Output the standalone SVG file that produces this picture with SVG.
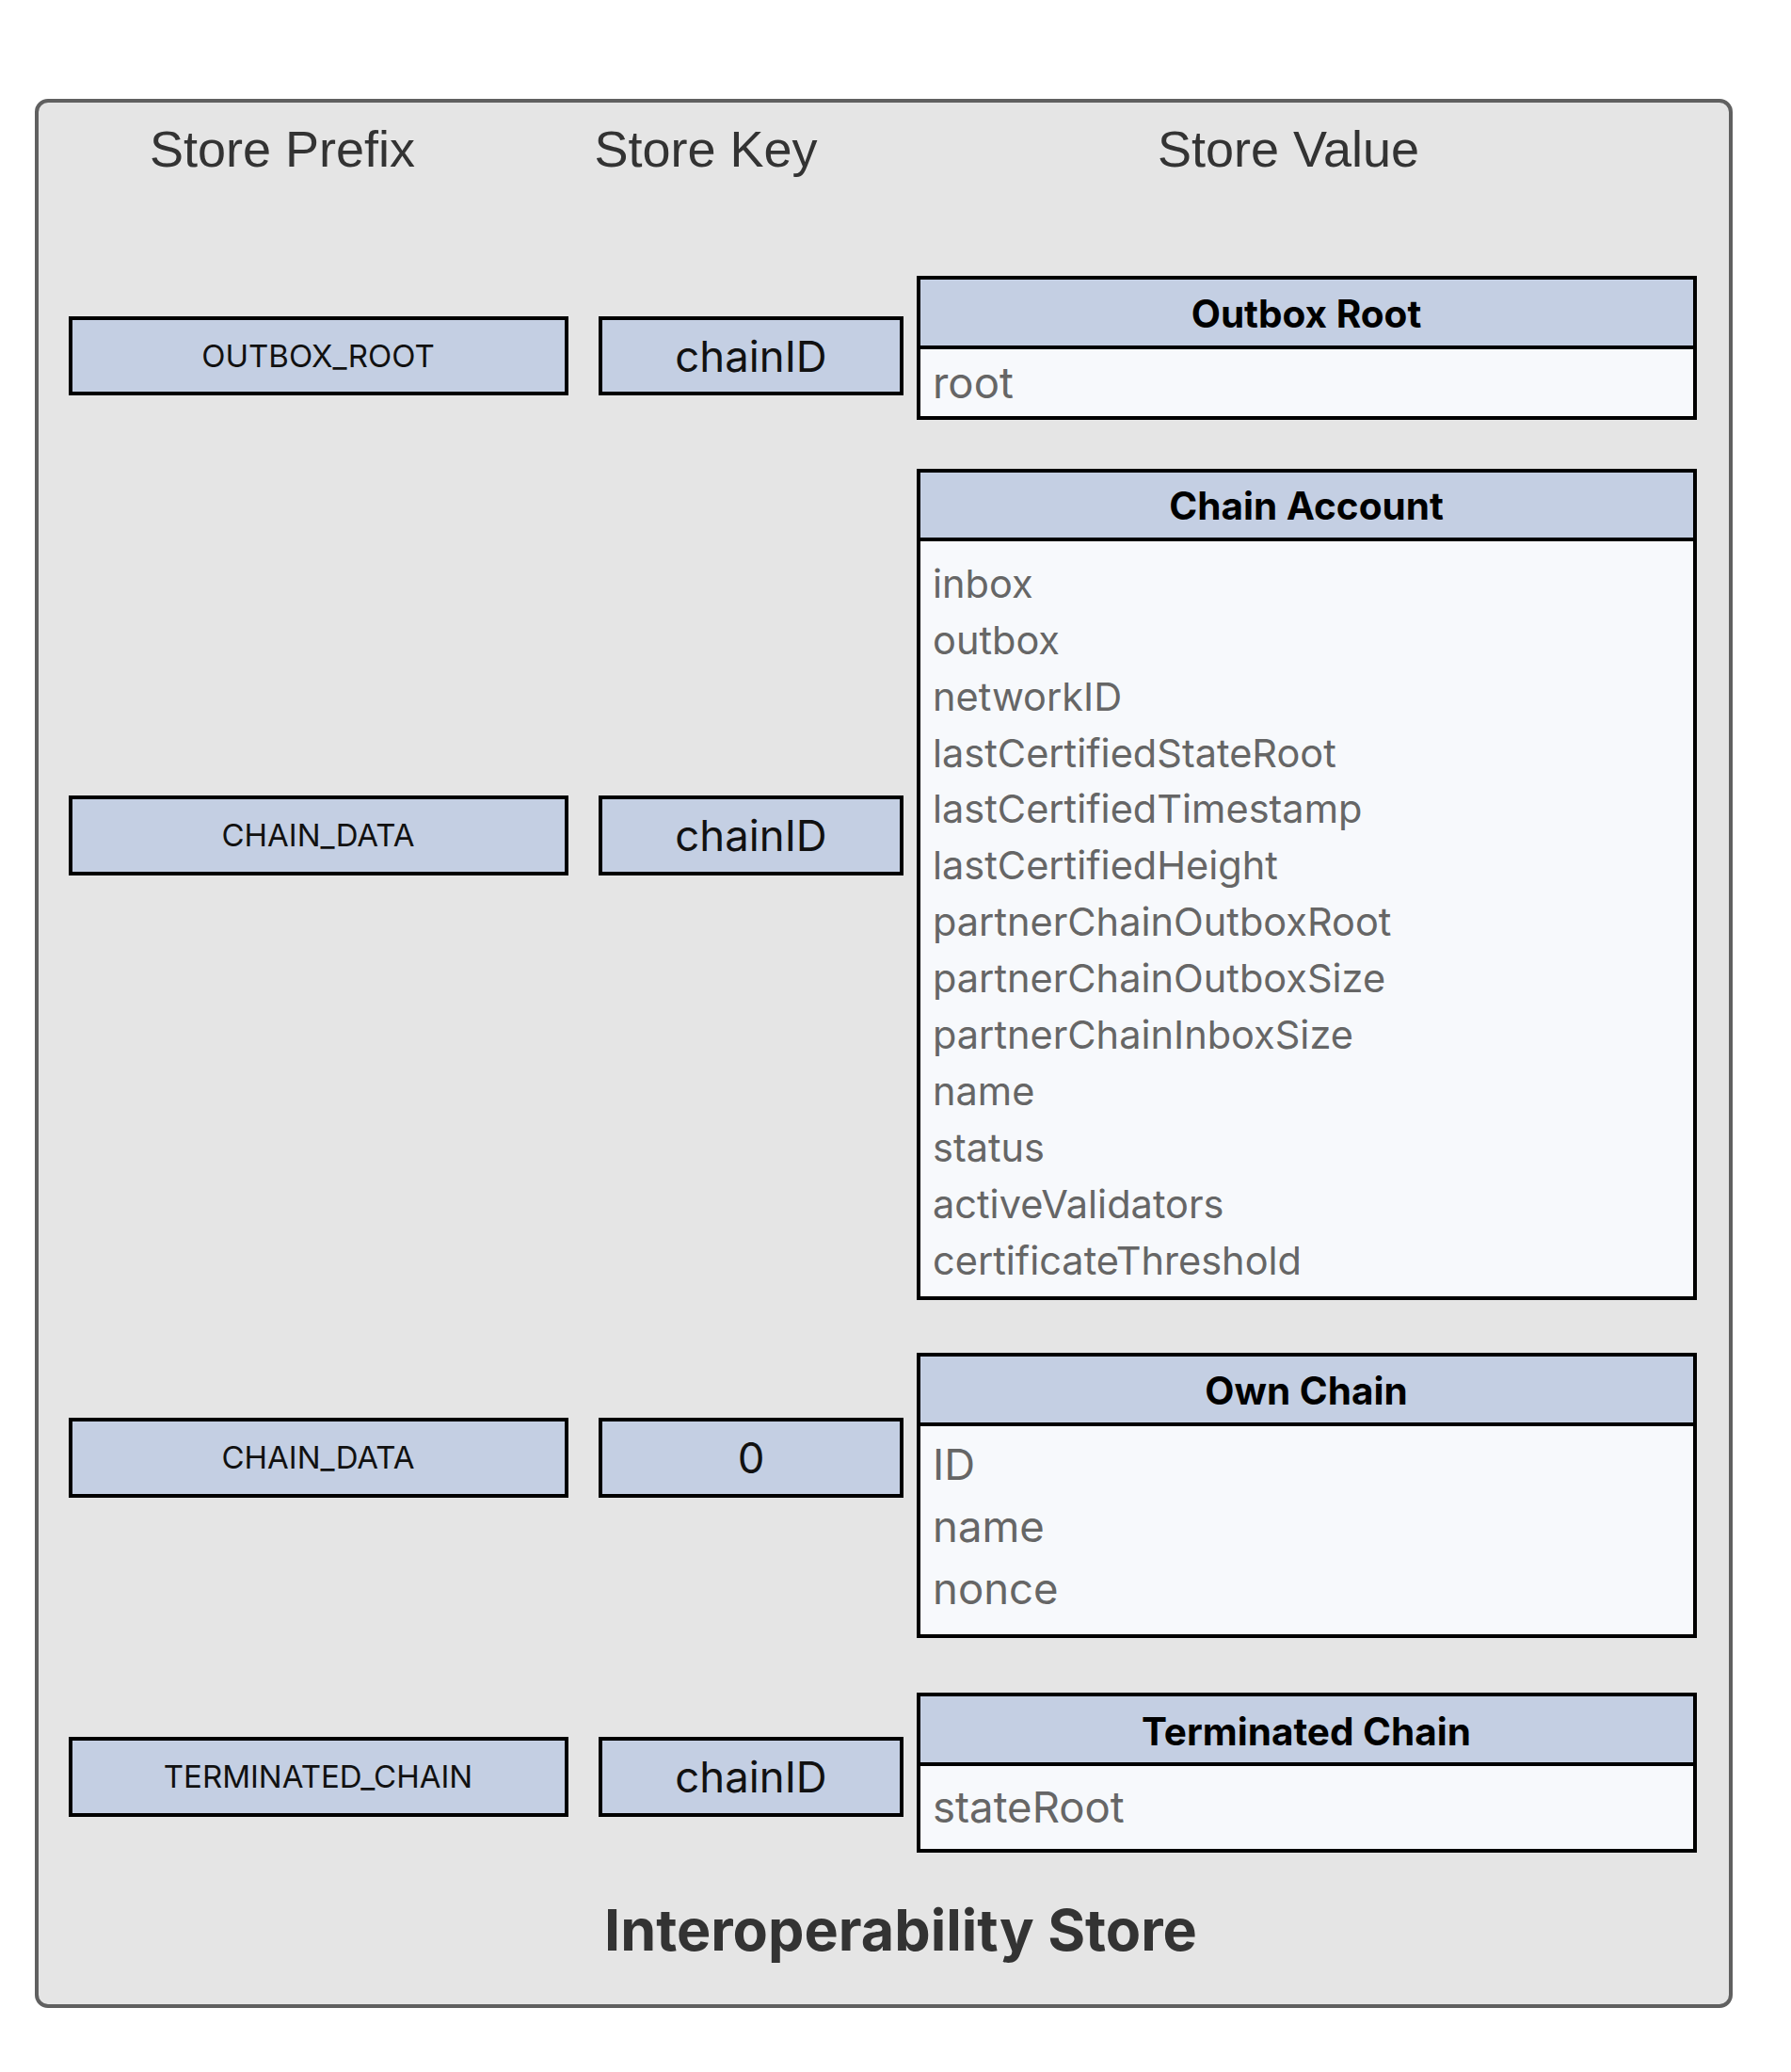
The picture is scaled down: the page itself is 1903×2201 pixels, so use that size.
<svg xmlns="http://www.w3.org/2000/svg" width="1903" height="2201" viewBox="0 0 1903 2201">
<style>
.outer{fill:#e5e5e5;stroke:#606060;stroke-width:4}
.cell{fill:#c4cfe3;stroke:#000;stroke-width:4}
.body{fill:#f7f9fc;stroke:#000;stroke-width:4}
.col{font-family:"Liberation Sans",Arial,sans-serif;font-size:54px;fill:#333;text-anchor:middle}
.pre{font-family:Inter,"Noto Sans",sans-serif;font-size:33px;fill:#111;text-anchor:middle}
.key{font-family:Inter,"Noto Sans",sans-serif;font-size:45.5px;fill:#111;text-anchor:middle}
.hdr{font-family:Inter,"Noto Sans",sans-serif;font-size:40.5px;font-weight:700;fill:#000;text-anchor:middle}
.fld{font-family:Inter,"Noto Sans",sans-serif;font-size:41.5px;fill:#666}
.fld2{font-family:Inter,"Noto Sans",sans-serif;font-size:45.5px;fill:#666}
.title{font-family:Inter,"Noto Sans",sans-serif;font-size:61px;font-weight:700;fill:#333;text-anchor:middle}
</style>
<g id="store">
<rect class="outer" x="39" y="107" width="1800" height="2024" rx="12"/>
<text class="col" x="300" y="177">Store Prefix</text>
<text class="col" x="750" y="177">Store Key</text>
<text class="col" x="1369" y="177">Store Value</text>
<text class="title" x="957" y="2072">Interoperability Store</text>
</g>
<g id="connectors"></g>
<g id="prefix-outbox-root">
<rect class="cell" x="75" y="338" width="527" height="80"/>
<text class="pre" x="338" y="390">OUTBOX_ROOT</text>
</g>
<g id="key-outbox-root">
<rect class="cell" x="638" y="338" width="320" height="80"/>
<text class="key" x="798" y="395">chainID</text>
</g>
<g id="prefix-chain-data">
<rect class="cell" x="75" y="847" width="527" height="81"/>
<text class="pre" x="338" y="899">CHAIN_DATA</text>
</g>
<g id="key-chain-data">
<rect class="cell" x="638" y="847" width="320" height="81"/>
<text class="key" x="798" y="904">chainID</text>
</g>
<g id="prefix-own-chain">
<rect class="cell" x="75" y="1508" width="527" height="81"/>
<text class="pre" x="338" y="1560">CHAIN_DATA</text>
</g>
<g id="key-own-chain">
<rect class="cell" x="638" y="1508" width="320" height="81"/>
<text class="key" x="798" y="1565">0</text>
</g>
<g id="prefix-terminated">
<rect class="cell" x="75" y="1847" width="527" height="81"/>
<text class="pre" x="338" y="1899">TERMINATED_CHAIN</text>
</g>
<g id="key-terminated">
<rect class="cell" x="638" y="1847" width="320" height="81"/>
<text class="key" x="798" y="1904">chainID</text>
</g>
<g id="value-outbox-root">
<rect class="body" x="976" y="295" width="825" height="149"/>
<rect class="cell" x="976" y="295" width="825" height="74"/>
<text class="hdr" x="1388" y="348">Outbox Root</text>
<text class="fld2" x="991" y="423">root</text>
</g>
<g id="value-chain-account">
<rect class="body" x="976" y="500" width="825" height="879"/>
<rect class="cell" x="976" y="500" width="825" height="73"/>
<text class="hdr" x="1388" y="552">Chain Account</text>
<text class="fld" x="991" y="635">inbox</text>
<text class="fld" x="991" y="695">outbox</text>
<text class="fld" x="991" y="755">networkID</text>
<text class="fld" x="991" y="815">lastCertifiedStateRoot</text>
<text class="fld" x="991" y="874">lastCertifiedTimestamp</text>
<text class="fld" x="991" y="934">lastCertifiedHeight</text>
<text class="fld" x="991" y="994">partnerChainOutboxRoot</text>
<text class="fld" x="991" y="1054">partnerChainOutboxSize</text>
<text class="fld" x="991" y="1114">partnerChainInboxSize</text>
<text class="fld" x="991" y="1174">name</text>
<text class="fld" x="991" y="1234">status</text>
<text class="fld" x="991" y="1294">activeValidators</text>
<text class="fld" x="991" y="1354">certificateThreshold</text>
</g>
<g id="value-own-chain">
<rect class="body" x="976" y="1439" width="825" height="299"/>
<rect class="cell" x="976" y="1439" width="825" height="74"/>
<text class="hdr" x="1388" y="1492">Own Chain</text>
<text class="fld2" x="991" y="1572">ID</text>
<text class="fld2" x="991" y="1638">name</text>
<text class="fld2" x="991" y="1704">nonce</text>
</g>
<g id="value-terminated-chain">
<rect class="body" x="976" y="1800" width="825" height="166"/>
<rect class="cell" x="976" y="1800" width="825" height="74"/>
<text class="hdr" x="1388" y="1854">Terminated Chain</text>
<text class="fld2" x="991" y="1936">stateRoot</text>
</g>
</svg>
